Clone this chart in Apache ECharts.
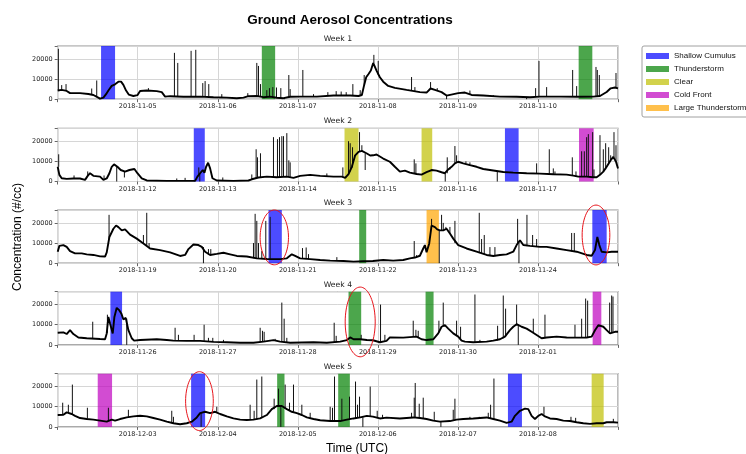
<!DOCTYPE html>
<html><head><meta charset="utf-8">
<script src="https://cdn.jsdelivr.net/npm/echarts@6/dist/echarts.min.js"></script>
<style>html,body{margin:0;padding:0;background:#fff}#c{width:746px;height:454px}</style>
</head><body><div id="c"></div>
<script>
// ---------------- DATA ----------------
// x = hours since the start of each week (week spans 7 days = 168 h)
const weekTitles = ['Week 1', 'Week 2', 'Week 3', 'Week 4', 'Week 5'];
const week1Ticks = ['2018-11-05', '2018-11-06', '2018-11-07', '2018-11-08', '2018-11-09', '2018-11-10'];
const week2Ticks = ['2018-11-12', '2018-11-13', '2018-11-14', '2018-11-15', '2018-11-16', '2018-11-17'];
const week3Ticks = ['2018-11-19', '2018-11-20', '2018-11-21', '2018-11-22', '2018-11-23', '2018-11-24'];
const week4Ticks = ['2018-11-26', '2018-11-27', '2018-11-28', '2018-11-29', '2018-11-30', '2018-12-01'];
const week5Ticks = ['2018-12-03', '2018-12-04', '2018-12-05', '2018-12-06', '2018-12-07', '2018-12-08'];

const categories = ['Shallow Cumulus', 'Thunderstorm', 'Clear', 'Cold Front', 'Large Thunderstorm'];
const categoryColors = ['rgba(0,0,255,0.7)', 'rgba(0,128,0,0.7)', 'rgba(191,191,0,0.7)', 'rgba(191,0,191,0.7)', 'rgba(255,165,0,0.7)'];

// weather event bands: [startHour, endHour, category]
const week1Bands = [[13.0, 17.2, 'Shallow Cumulus'], [61.2, 65.2, 'Thunderstorm'], [156.2, 160.3, 'Thunderstorm']];
const week2Bands = [[40.8, 44.1, 'Shallow Cumulus'], [86.0, 90.2, 'Clear'], [109.1, 112.3, 'Clear'], [134.1, 138.2, 'Shallow Cumulus'], [156.3, 160.7, 'Cold Front']];
const week3Bands = [[63.2, 67.2, 'Shallow Cumulus'], [90.4, 92.5, 'Thunderstorm'], [110.6, 114.3, 'Large Thunderstorm'], [160.3, 164.6, 'Shallow Cumulus']];
const week4Bands = [[15.8, 19.3, 'Shallow Cumulus'], [87.2, 91.0, 'Thunderstorm'], [110.3, 112.7, 'Thunderstorm'], [160.4, 163.0, 'Cold Front']];
const week5Bands = [[12.0, 16.3, 'Cold Front'], [40.0, 44.2, 'Shallow Cumulus'], [65.8, 68.0, 'Thunderstorm'], [84.1, 87.6, 'Thunderstorm'], [135.0, 139.2, 'Shallow Cumulus'], [160.1, 163.7, 'Clear']];

// background concentration trace: [hour, #/cc]
const week1Base = [[0,4300],[1.2,4600],[2.7,4100],[3.7,3000],[6.7,3000],[9.2,2600],[10.7,2100],[11.9,1000],[12.7,300],[13.7,800],[14.5,2500],[15.2,4300],[16.2,6600],[17.2,7400],[18.2,8700],[19,8700],[19.7,7100],[20.5,4300],[21.3,2300],[22.7,1600],[23.9,2000],[24.7,4100],[26.7,4300],[29.7,4000],[31.2,3500],[32.2,1300],[33.7,1500],[37.7,1200],[42.7,1300],[46.7,1000],[50.7,800],[53.7,500],[55.7,800],[57.2,1500],[59.7,1600],[61.7,1000],[63.7,1300],[65.7,700],[67.7,500],[69.7,1200],[72.7,1300],[77.7,1300],[82.7,1800],[87.7,1800],[90.2,1600],[91.2,2100],[91.9,7100],[92.5,10900],[93.2,12500],[93.9,14200],[94.6,18000],[95.6,14200],[96.6,10900],[97.6,8700],[99.1,6600],[101.1,5600],[104.6,4600],[108.6,3500],[110.6,3300],[111.8,5300],[113.1,4600],[115.1,3500],[116.6,1800],[120.1,3000],[122.1,3300],[124.1,2100],[127.6,1800],[132.6,1300],[137.6,1200],[141.6,1000],[144.6,1300],[150.6,1300],[155.6,1200],[160.6,1300],[162.6,1600],[163.6,2600],[164.6,3600],[165.8,5400],[167.1,5800],[168,5400]];
const week2Base = [[0,7300],[0.5,3300],[1.2,1600],[2.7,1300],[4.7,1500],[6.7,1500],[8.2,800],[9,2800],[9.7,4100],[10.7,2800],[12.7,2400],[13.7,800],[14.7,1500],[15.5,4100],[16.2,7300],[16.9,8500],[17.9,7300],[18.9,5700],[20.2,4900],[21.5,5700],[23,6200],[23.9,4100],[25.2,1600],[26.7,500],[32.7,300],[39.7,300],[41.2,300],[41.9,2400],[42.7,4100],[43.5,5700],[44,4400],[44.5,7300],[45.1,9300],[45.7,6500],[46.4,1600],[47.7,500],[52.7,300],[57.2,500],[58.2,1100],[60.2,2000],[62.7,2400],[65.7,2100],[68.7,2400],[70.7,1800],[72.7,2800],[75.7,3300],[78.7,2800],[82.7,2400],[85.2,2400],[86.2,1800],[87.2,3700],[88.2,7300],[89.2,13000],[90.2,14700],[91.2,15200],[92.7,13900],[93.7,12900],[94.6,13000],[95.6,13400],[97.6,11400],[99.6,9800],[101.1,7300],[102.6,4900],[104.1,5400],[105.6,4400],[107.6,3700],[109.1,3400],[110.6,4600],[112.1,5700],[113.6,5400],[115.1,4600],[116.1,4100],[117.1,6000],[118.1,7300],[119.1,9000],[120.1,9800],[121.6,9000],[123.6,8100],[125.6,7300],[127.6,6200],[129.6,5700],[131.6,5200],[133.6,4700],[136.6,4400],[140.6,4100],[144.6,3900],[148.6,3600],[152.6,3400],[154.6,2900],[156.1,2400],[158.6,2400],[160.6,2100],[161.6,2100],[162.6,3300],[163.6,4900],[164.6,7300],[165.8,10600],[166.6,12200],[167.4,9800],[168,6500]];
const week3Base = [[0,5700],[0.5,8600],[1.7,9000],[2.7,8100],[3.7,6000],[5.2,4900],[7.2,4900],[8.7,4400],[10.7,4100],[12.7,3400],[14.2,3300],[14.7,5400],[15.5,13000],[16.7,17100],[17.5,18700],[18.2,17900],[19.2,16300],[20.2,16800],[21.7,14200],[23.7,12200],[25.7,9800],[27.7,7300],[30.7,6500],[33.7,5400],[36.7,3600],[38.2,4100],[39.2,7000],[40.7,9300],[42.2,9000],[43.2,8100],[44.2,5700],[45.7,4100],[47.7,4600],[49.7,5200],[51.7,4400],[53.7,3600],[56.7,3300],[59.7,2400],[62.7,2100],[66.7,2000],[68.7,2400],[70.2,4400],[71.2,3600],[72.7,2400],[75.7,2000],[78.7,1600],[81.7,1300],[85.7,1100],[88.7,800],[91.7,1000],[94.5,1100],[97.6,1600],[100.6,1300],[103.6,1600],[105.6,2400],[107.1,2800],[108.6,3700],[109.6,7300],[110.1,9000],[110.6,5400],[111.4,9800],[112.1,18700],[113.1,17900],[113.8,16800],[114.6,16300],[115.6,16300],[116.6,17100],[117.6,14700],[118.6,12200],[120.1,9000],[122.6,7300],[125.6,5700],[128.6,4100],[130.6,3600],[132.6,4100],[134.6,4400],[136.6,5700],[137.6,9000],[138.6,11400],[139.6,9000],[141.6,8600],[144.6,8100],[146.6,8100],[149.6,7300],[152.6,6500],[155.6,5700],[158.6,4100],[160.1,3700],[161.1,6500],[161.8,13000],[162.4,9000],[163.1,5700],[164.6,5400],[166.1,5700],[168,5700]];
const week4Base = [[0,6000],[1.7,6200],[2.7,5400],[3.7,7300],[4.7,5400],[6.2,3700],[8.7,3300],[12.7,2900],[14.2,2800],[14.7,5700],[15.2,13900],[15.7,10600],[16.5,5700],[17,13900],[17.7,18400],[18.5,17100],[19.1,15500],[19.7,12600],[20.4,13400],[21.2,7300],[22.2,3300],[22.9,2100],[24.7,2400],[29.7,2800],[32.7,2400],[34.7,2100],[38.7,2000],[42.7,2000],[46.7,1500],[50.7,1300],[54.7,1100],[58.7,1100],[61.7,1600],[64.7,2400],[66.7,1600],[69.7,1100],[76.7,1300],[80.7,1100],[84.7,1600],[86.7,2400],[87.7,3700],[88.7,2800],[90.7,2800],[92.7,2400],[94.5,2300],[96.6,1300],[98.6,2000],[99.6,3700],[103.6,3600],[107.6,4100],[109.1,2800],[110.6,2400],[112.6,2800],[114.1,5700],[115.1,9000],[116.1,9800],[117.1,8100],[118.6,5700],[120.1,4100],[121.1,2100],[122.1,1600],[124.6,1300],[128.6,1600],[130.6,2100],[132.6,2800],[134.1,4100],[135.6,7300],[136.6,9000],[137.6,10300],[139.1,9000],[140.6,8100],[142.1,6500],[143.6,4900],[145.1,3300],[146.6,3700],[149.6,4100],[152.6,3700],[155.6,3600],[158.6,3700],[160.1,4100],[161.1,7300],[162.1,9800],[163.6,9000],[164.6,7300],[165.6,5700],[167.1,6500],[168,6500]];
const week5Base = [[0,5900],[1.7,6000],[2.7,7200],[4.2,6400],[5.2,5500],[6.7,4400],[8.7,3900],[10.7,3600],[12.7,3100],[14.7,2600],[16.2,3600],[17.2,3100],[18.7,3900],[20.7,4700],[22.7,5200],[24.7,5500],[26.7,5200],[28.7,4400],[30.7,3600],[32.7,2600],[34.7,1800],[36.7,1300],[38.7,1800],[40.2,2600],[41.7,4700],[42.7,6800],[44.2,7500],[45.7,6800],[47.2,7500],[48.7,6400],[50.7,5200],[52.7,4200],[54.7,3600],[56.7,3400],[58.7,3600],[60.7,4200],[62.7,5900],[64.2,8800],[65.7,10400],[67.2,10400],[68.7,8800],[70.2,7500],[71.7,6800],[73.2,5900],[74.7,4700],[76.7,3900],[78.7,3300],[81.7,2900],[84.7,2900],[86.7,3600],[88.7,4200],[90.7,4700],[92.7,5500],[94.5,5100],[96.6,4200],[98.6,4600],[102.6,4200],[106.6,4700],[108.6,4400],[110.6,3900],[112.6,3100],[114.6,2600],[117.6,2900],[119.6,3600],[121.6,3900],[124.6,4200],[128.6,4700],[130.6,3900],[132.6,3100],[134.6,2000],[136.1,2600],[137.1,5500],[138.6,8000],[140.1,9100],[141.1,8800],[142.1,5500],[143.1,3900],[144.1,5500],[145.1,6400],[146.1,5200],[147.6,4200],[149.6,3900],[151.6,3100],[153.6,2900],[155.6,2300],[157.6,1800],[159.6,1500],[161.6,1800],[163.6,1800],[164.6,2300],[166.6,2300],[168,2100]];

// short-lived spikes (and dips): [hour, from, to]
const week1Spikes = [[0.2,4300,25000],[1.2,4600,7000],[2.5,4100,7500],[10.2,2300,5300],[11.7,1100,9300],[12.5,500,0],[27.2,4300,5500],[35,1300,23000],[36,1300,18000],[40,1300,24000],[41.4,1300,24500],[43.5,1300,8000],[44.2,1300,9000],[45.3,1200,7500],[49.2,900,2500],[57,1500,3000],[59.7,1600,18000],[60.2,1600,16500],[60.8,1600,7500],[62.7,1200,4500],[63.5,1300,5500],[64.5,1000,6000],[65.6,700,5800],[66.9,600,5500],[68,500,0],[69.3,1200,12000],[69.7,1200,5000],[73.5,1300,14500],[76.7,1300,2500],[81,1700,3500],[83.5,1800,4000],[85,1800,3800],[86.5,1800,3500],[88.5,1800,7500],[90.7,1700,4500],[91.9,7100,12000],[94.8,18000,22000],[96.1,12000,19000],[106.1,4300,11000],[107.1,4000,6000],[111.8,5300,8500],[113.8,4300,5500],[116.6,1800,0],[121.1,3200,3500],[123.6,2300,4300],[130.6,1500,2000],[140.6,1000,0],[143.3,1200,5500],[144.3,1300,19000],[146.6,1300,6000],[154.4,1200,14500],[155.6,1200,6500],[161.4,1300,16000],[161.8,1400,14500],[162.4,1600,12000],[167.4,5600,13000]];
const week2Spikes = [[0.3,7300,13500],[4.9,1500,3000],[9,2800,5000],[13.9,800,3000],[17.7,7300,0],[20,4900,2000],[35.7,300,1500],[38.2,300,1800],[42.3,3000,7000],[42.6,4000,0],[49.5,400,2000],[58.2,1100,3500],[59.5,1500,16000],[59.9,1800,12000],[60.8,2000,14000],[64.7,2200,22000],[65.9,2100,21000],[66.5,2200,22000],[67.2,2300,22500],[67.7,2300,22500],[68.7,2400,24000],[69.3,2300,10500],[69.7,2200,9500],[80.7,2500,4000],[85.5,2400,7000],[87.2,3700,20000],[87.7,5000,19000],[88.4,7000,17000],[89,11000,13000],[90.5,14700,24500],[91.2,15200,18000],[92.2,13900,5700],[106.9,4200,11000],[107.4,4000,9000],[116.2,4100,0],[116.8,4100,12000],[117.6,6000,7000],[119.1,9000,17600],[119.6,9500,13000],[122.4,9000,10000],[123.6,8100,9500],[131.8,5200,0],[143.6,3900,9000],[147.4,3600,16000],[148.6,3600,6500],[149.1,3600,5000],[154.3,2900,12000],[155.4,2500,5000],[157.1,2400,15000],[157.9,2400,15000],[158.6,2400,22000],[159.1,2300,23500],[160.4,2100,24500],[160.8,2100,6000],[162.6,3300,23000],[163.6,4900,16000],[164.3,6000,19000],[165.2,9000,17000],[165.8,10600,13000],[166.8,12000,24500],[167.4,9800,18000]];
const week3Spikes = [[15.4,12000,24000],[25.7,9800,14000],[26.7,8500,25000],[27.4,7500,10000],[43.7,8000,0],[45.2,4100,7000],[45.9,4100,7000],[58.7,2500,10000],[59.2,2400,24500],[59.7,2400,21000],[60.2,2300,10000],[61.2,2200,6000],[62.4,2100,21000],[63.7,2100,23000],[73.4,2300,7500],[74.5,2100,7800],[75.2,2000,4500],[83.7,1200,3000],[106.9,2600,11000],[107.6,2800,4000],[112.1,18700,22000],[114.4,16300,0],[115.1,16300,24000],[115.6,16300,20000],[116.4,17000,18000],[117.6,14700,18000],[119.1,10000,21000],[126.4,5000,25000],[127.1,4800,12000],[127.9,4500,14000],[129.6,4000,8000],[131.1,3800,8000],[137.9,9500,22000],[138.3,11000,0],[140.7,8500,24000],[142.4,8500,14000],[143.6,8200,12000],[154.1,5900,15000],[154.9,5700,15000]];
const week4Spikes = [[10.5,3100,11500],[14.9,6000,15000],[20.7,13000,0],[35.2,2100,8500],[36.2,2100,5000],[40.9,2000,5000],[43.9,2000,10000],[45.2,1800,3500],[46.5,1500,3500],[49.7,1300,2500],[60.7,1500,8500],[61.4,1600,7000],[61.9,1700,6500],[65.2,2000,3000],[67.2,1600,21000],[67.9,1500,13000],[68.7,1300,3500],[82.9,1300,11000],[83.5,1400,4500],[91,2800,5000],[96.8,1500,20000],[98.1,2000,5000],[106.6,4000,12000],[107.4,4100,7500],[108.1,3800,7000],[114.3,6000,12000],[115.6,9300,21000],[119.6,4800,12000],[120.8,3000,9000],[125.1,1300,25000],[126.6,1400,2500],[131.9,2200,9500],[133.6,3300,24500],[134.3,4100,18000],[137.6,10300,20000],[138.1,10000,0],[142.6,6000,13000],[146.1,3500,15000],[155.1,3600,10000],[157.1,3700,13000],[158.3,3700,23000],[158.9,3700,22000],[165.5,5800,21000],[166.1,6000,24500],[166.5,6200,24000]];
const week5Spikes = [[1.5,6000,12000],[3.2,7000,11000],[4.4,6400,21000],[8.9,4000,9500],[15.2,3000,9500],[21.2,4800,8500],[34.2,1900,8000],[34.7,1800,5000],[43,7000,0],[47.7,7300,10000],[57.7,3500,11000],[58.9,3600,8000],[59.7,3700,23500],[61.2,4500,25000],[64.9,8800,14000],[66.2,10400,19000],[66.9,10400,0],[68.2,9000,21000],[69.5,8000,12000],[70.7,7500,21000],[73.2,5900,11000],[75.7,4200,7000],[81.7,2900,10000],[82.4,2900,9500],[83,2900,25000],[85.2,3300,14000],[87.5,3800,15000],[89.3,4300,22500],[89.9,4500,11000],[90.5,4700,15000],[91.5,4800,0],[93.7,5300,20000],[95.8,4300,8000],[97.4,4500,6000],[106.1,4700,7000],[106.9,4600,14500],[107.2,4600,21800],[108.4,4500,11500],[109.6,4200,14500],[112.9,3100,7500],[114.9,2600,0],[118.6,3300,8500],[119.1,3500,14000],[123.6,4100,5000],[126.4,4300,5000],[129.1,4200,7000],[129.8,4000,11000],[130.8,3900,24000],[145.8,6000,10000],[153.9,2800,5000],[155.3,2400,4500],[166.6,2300,4000]];

// red highlight ellipses: [weekIndex, centreHour, centreValue, halfWidthHours, halfHeightValue]
const highlights = [[2, 64.95, 12800, 4.25, 13600], [2, 161.4, 14000, 4.15, 14850], [3, 90.7, 11400, 4.5, 17300], [4, 42.5, 12800, 4.15, 14600]];

// ---------------- LAYOUT / RENDER ----------------
const weekTicks = [week1Ticks, week2Ticks, week3Ticks, week4Ticks, week5Ticks];
const weekBands = [week1Bands, week2Bands, week3Bands, week4Bands, week5Bands];
const weekBase = [week1Base, week2Base, week3Base, week4Base, week5Base];
const weekSpikes = [week1Spikes, week2Spikes, week3Spikes, week4Spikes, week5Spikes];

const Y_MAX = 26400;
const gridTops = [46, 128.3, 210, 291.7, 373.7];
const GRID_LEFT = 57.7, GRID_W = 560.3, GRID_H = 53.2;
const tickFont = 'DejaVu Sans';
const textFont = 'Liberation Sans';

const grids = [], xAxes = [], yAxes = [], series = [], titles = [];
titles.push({text: 'Ground Aerosol Concentrations', left: 350, top: 13, textAlign: 'center', padding: 0,
  textStyle: {fontFamily: textFont, fontWeight: 'bold', fontSize: 13.5, color: '#000'}});

for (let w = 0; w < 5; w++) {
  grids.push({left: GRID_LEFT, top: gridTops[w], width: GRID_W, height: GRID_H, show: true,
    borderColor: '#8f8f8f', borderWidth: 1.2, backgroundColor: 'transparent', containLabel: false});
  titles.push({text: weekTitles[w], left: GRID_LEFT + GRID_W / 2, top: gridTops[w] - 11, textAlign: 'center', padding: 0,
    textStyle: {fontFamily: tickFont, fontWeight: 'normal', fontSize: 7.7, color: '#222'}});
  const ticks = weekTicks[w];
  xAxes.push({type: 'value', gridIndex: w, min: 0, max: 168, interval: 24,
    axisLine: {show: false}, axisTick: {show: true, length: 3, lineStyle: {color: '#666'}},
    splitLine: {show: true, lineStyle: {color: '#d6d6d6', width: 1}},
    axisLabel: {margin: 4, fontFamily: tickFont, fontSize: 6.5, color: '#222',
      formatter: v => (v > 0 && v < 168 && v % 24 === 0) ? ticks[v / 24 - 1] : ''}});
  yAxes.push({type: 'value', gridIndex: w, min: 0, max: Y_MAX, interval: 10000,
    axisLine: {show: false}, axisTick: {show: true, length: 3, lineStyle: {color: '#666'}},
    splitLine: {show: true, lineStyle: {color: '#d6d6d6', width: 1}},
    axisLabel: {margin: 5, fontFamily: tickFont, fontSize: 6.5, color: '#222',
      formatter: v => (v % 10000 === 0) ? String(v) : ''}});

  // bands, one series per category
  categories.forEach((cat, ci) => {
    const data = weekBands[w].filter(b => b[2] === cat).map(b => [b[0], b[1]]);
    if (!data.length) return;
    const col = categoryColors[ci];
    series.push({type: 'custom', name: cat, xAxisIndex: w, yAxisIndex: w, z: 1, silent: true,
      itemStyle: {color: col}, data: data, encode: {x: [0, 1]},
      renderItem: (params, api) => {
        const a = api.coord([api.value(0), Y_MAX]);
        const b = api.coord([api.value(1), 0]);
        return {type: 'rect', shape: {x: a[0], y: a[1], width: b[0] - a[0], height: b[1] - a[1]}, style: {fill: col}};
      }});
  });

  // spikes
  series.push({type: 'custom', name: 'spikes' + w, xAxisIndex: w, yAxisIndex: w, z: 3, silent: true,
    data: weekSpikes[w], encode: {x: 0, y: [1, 2]},
    renderItem: (params, api) => {
      const a = api.coord([api.value(0), api.value(1)]);
      const b = api.coord([api.value(0), api.value(2)]);
      return {type: 'line', shape: {x1: a[0], y1: a[1], x2: b[0], y2: b[1]}, style: {stroke: '#111', lineWidth: 1}};
    }});

  // baseline
  series.push({type: 'line', name: 'base' + w, xAxisIndex: w, yAxisIndex: w, z: 4, silent: true,
    data: weekBase[w], showSymbol: false, symbol: 'none',
    lineStyle: {color: '#000', width: 1.9}});

  // highlight ellipses
  const hl = highlights.filter(h => h[0] === w).map(h => h.slice(1));
  if (hl.length) {
    series.push({type: 'custom', name: 'hl' + w, xAxisIndex: w, yAxisIndex: w, z: 6, silent: true, clip: false,
      data: hl, encode: {x: 0, y: 1},
      renderItem: (params, api) => {
        const c = api.coord([api.value(0), api.value(1)]);
        const e = api.coord([api.value(0) + api.value(2), api.value(1) + api.value(3)]);
        const rx = e[0] - c[0], ry = c[1] - e[1];
        const pts = [];
        for (let k = 0; k < 72; k++) {
          const t = k / 72 * Math.PI * 2;
          pts.push([c[0] + rx * Math.cos(t), c[1] + ry * Math.sin(t)]);
        }
        return {type: 'polygon', shape: {points: pts}, style: {fill: 'none', stroke: '#e8141b', lineWidth: 1}};
      }});
  }
}

const option = {
  animation: false,
  backgroundColor: '#fff',
  title: titles,
  grid: grids,
  xAxis: xAxes,
  yAxis: yAxes,
  legend: {
    data: categories.map(c => ({name: c, icon: 'rect'})),
    orient: 'vertical', left: 642, top: 46, padding: [5, 5, 4, 4],
    itemWidth: 23, itemHeight: 6, itemGap: 3, selectedMode: false,
    borderColor: '#a0a0a0', borderWidth: 1, borderRadius: 2, backgroundColor: '#fff',
    textStyle: {fontFamily: textFont, fontSize: 8, color: '#111', lineHeight: 10}
  },
  graphic: [
    {type: 'text', x: 18, y: 237, rotation: Math.PI / 2, style: {text: 'Concentration (#/cc)', font: '12px "Liberation Sans"', fill: '#000', align: 'center', verticalAlign: 'middle'}},
    {type: 'text', x: 357, y: 449, style: {text: 'Time (UTC)', font: '12px "Liberation Sans"', fill: '#000', align: 'center', verticalAlign: 'middle'}}
  ],
  series: series
};
const chart = echarts.init(document.getElementById('c'), null, {renderer: 'canvas'});
chart.setOption(option);
</script>
</body></html>
